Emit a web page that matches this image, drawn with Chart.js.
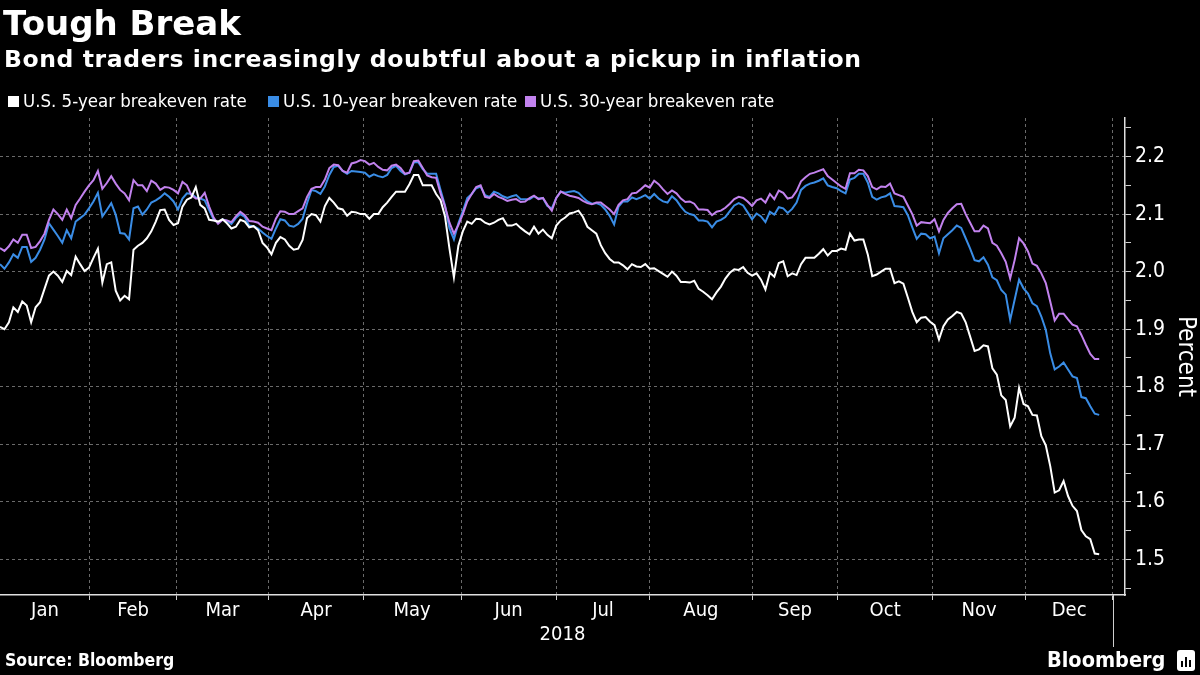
<!DOCTYPE html>
<html>
<head>
<meta charset="utf-8">
<script src="https://cdn.jsdelivr.net/npm/chart.js@4/dist/chart.umd.min.js"></script>
<style>
html,body{margin:0;padding:0;background:#000;}
#wrap{position:relative;width:1200px;height:675px;overflow:hidden;background:#000;}
#chart{position:absolute;left:0;top:0;}
.t{position:absolute;color:#fff;white-space:nowrap;z-index:2;}
#title{left:3px;top:6px;font:bold 34px/34px "DejaVu Sans",sans-serif;}
#sub{left:4px;top:48px;font:bold 23.5px/23.5px "DejaVu Sans",sans-serif;letter-spacing:0.6px;}
#legend{left:0;top:92px;width:1200px;height:20px;font:18.5px/18.5px "DejaVu Sans Condensed","DejaVu Sans",sans-serif;}
.li{position:absolute;top:0;display:flex;align-items:center;}
.sw{width:11px;height:11px;margin-right:4px;}
#src{left:5px;top:652px;font:bold 17.5px/17.5px "DejaVu Sans Condensed","DejaVu Sans",sans-serif;}
#logo{left:1047px;top:649px;font:bold 21.5px/21.5px "DejaVu Sans Condensed","DejaVu Sans",sans-serif;}
#icon{position:absolute;left:1177px;top:650px;width:18px;height:21px;background:#fff;border-radius:3px;z-index:2;}
#icon i{position:absolute;bottom:4px;width:2px;background:#000;}
</style>
</head>
<body>
<div id="wrap">
  <canvas id="chart" width="1200" height="675"></canvas>
  <div class="t" id="title">Tough Break</div>
  <div class="t" id="sub">Bond traders increasingly doubtful about a pickup in inflation</div>
  <div class="t" id="legend"></div>
  <div class="t" id="src">Source: Bloomberg</div>
  <div class="t" id="logo">Bloomberg</div>
  <div id="icon"><i style="left:4px;height:6px"></i><i style="left:8px;height:10px"></i><i style="left:12px;height:7px"></i></div>
</div>
<script>
// ---- data (trading-day index = position in array) ----
const seriesNames = ['U.S. 5-year breakeven rate', 'U.S. 10-year breakeven rate', 'U.S. 30-year breakeven rate'];
const seriesColors = ['#ffffff', '#3a8de6', '#c282ee'];

const white5 = [
1.904,1.900,1.912,1.938,1.930,1.948,1.941,1.912,1.938,1.947,
1.970,1.993,2.000,1.993,1.982,2.001,1.994,2.026,2.013,2.001,
2.007,2.024,2.040,1.981,2.013,2.016,1.967,1.950,1.958,1.952,
2.038,2.045,2.050,2.058,2.070,2.087,2.107,2.108,2.090,2.081,
2.084,2.113,2.125,2.129,2.147,2.116,2.110,2.090,2.089,2.087,
2.091,
2.084,2.075,2.078,2.090,2.087,2.077,2.079,2.072,2.050,
2.042,2.030,2.050,2.060,2.056,2.045,2.038,2.040,2.055,2.093,
2.100,2.098,2.087,2.114,2.128,2.120,2.110,2.108,2.097,2.104,
2.103,2.100,2.100,2.092,2.100,2.100,2.112,2.120,2.130,2.139,
2.139,2.139,2.152,2.168,2.168,2.150,2.150,2.150,2.135,2.124,
2.096,2.040,1.990,2.045,2.070,2.087,2.083,2.092,2.091,2.085,
2.082,2.085,2.090,2.093,2.080,2.080,2.083,2.076,2.070,2.065,
2.078,2.066,2.073,2.064,2.058,2.080,2.089,2.094,2.101,2.103,
2.106,2.095,2.078,2.072,2.066,2.046,2.032,2.022,2.016,2.016,
2.011,2.004,2.013,2.009,2.008,2.013,2.005,2.006,2.001,1.996,
1.991,
2.000,1.993,1.982,1.982,1.981,1.984,1.970,1.965,1.959,
1.952,1.964,1.974,1.988,1.998,2.004,2.003,2.008,1.998,1.993,
1.997,1.986,1.969,1.998,1.991,2.015,2.018,1.992,1.997,1.994,
2.013,2.024,2.024,2.024,2.031,2.039,2.028,2.036,2.036,2.040,
2.038,2.066,2.054,2.056,2.056,2.030,1.992,1.995,2.000,2.005,
2.005,1.980,1.983,1.979,1.955,1.930,1.912,1.920,1.921,1.913,
1.907,1.882,1.905,1.917,1.923,1.930,1.927,1.912,1.887,1.862,
1.865,1.872,1.870,1.832,1.821,1.785,1.777,1.731,1.746,1.798,
1.770,1.766,1.751,1.750,1.714,1.698,1.662,1.616,1.620,1.636,
1.610,1.593,1.584,1.551,1.540,1.535,1.510,1.509];

const blue10 = [
2.013,2.005,2.016,2.030,2.024,2.043,2.043,2.017,2.024,2.038,
2.056,2.084,2.073,2.062,2.050,2.072,2.058,2.087,2.093,2.099,
2.110,2.122,2.137,2.096,2.107,2.119,2.099,2.067,2.066,2.056,
2.110,2.113,2.099,2.108,2.120,2.124,2.129,2.136,2.130,2.122,
2.108,2.127,2.136,2.135,2.129,2.127,2.124,2.107,2.091,2.085,
2.091,
2.088,2.083,2.093,2.100,2.095,2.080,2.079,2.075,2.068,
2.062,2.057,2.075,2.091,2.089,2.080,2.078,2.083,2.092,2.119,
2.142,2.140,2.135,2.148,2.168,2.182,2.184,2.175,2.170,2.175,
2.174,2.173,2.172,2.165,2.169,2.166,2.164,2.168,2.180,2.184,
2.175,2.169,2.172,2.190,2.190,2.178,2.170,2.170,2.170,2.142,
2.115,2.075,2.056,2.084,2.105,2.128,2.135,2.145,2.148,2.133,
2.130,2.139,2.136,2.131,2.128,2.131,2.133,2.126,2.126,2.126,
2.131,2.127,2.128,2.114,2.110,2.128,2.139,2.137,2.139,2.140,
2.137,2.129,2.122,2.118,2.119,2.116,2.108,2.097,2.082,2.113,
2.122,2.122,2.129,2.126,2.129,2.133,2.127,2.135,2.127,2.122,
2.120,
2.131,2.124,2.113,2.104,2.100,2.098,2.089,2.089,2.087,
2.077,2.087,2.090,2.095,2.105,2.115,2.119,2.115,2.103,2.091,
2.101,2.096,2.086,2.104,2.099,2.112,2.110,2.102,2.109,2.120,
2.142,2.149,2.153,2.155,2.158,2.162,2.150,2.147,2.145,2.140,
2.136,2.160,2.163,2.170,2.170,2.155,2.130,2.125,2.129,2.131,
2.136,2.114,2.113,2.112,2.098,2.077,2.057,2.066,2.065,2.058,
2.061,2.032,2.058,2.065,2.072,2.080,2.076,2.058,2.040,2.020,
2.018,2.025,2.012,1.990,1.985,1.968,1.960,1.916,1.951,1.986,
1.971,1.962,1.945,1.940,1.922,1.899,1.858,1.830,1.835,1.842,
1.830,1.818,1.815,1.782,1.780,1.766,1.753,1.751];

const purple30 = [
2.041,2.036,2.044,2.056,2.050,2.064,2.064,2.041,2.043,2.053,
2.066,2.090,2.108,2.100,2.090,2.108,2.093,2.116,2.127,2.139,
2.150,2.159,2.175,2.144,2.154,2.166,2.153,2.142,2.136,2.124,
2.159,2.150,2.150,2.140,2.158,2.153,2.142,2.147,2.146,2.142,
2.136,2.156,2.150,2.133,2.127,2.127,2.137,2.113,2.094,2.083,
2.090,
2.089,2.086,2.096,2.104,2.098,2.088,2.087,2.085,2.078,
2.075,2.072,2.092,2.105,2.104,2.100,2.100,2.105,2.110,2.130,
2.144,2.147,2.147,2.160,2.180,2.186,2.185,2.175,2.172,2.188,
2.190,2.194,2.192,2.186,2.189,2.182,2.177,2.176,2.184,2.186,
2.180,2.170,2.172,2.192,2.193,2.180,2.167,2.164,2.163,2.136,
2.113,2.085,2.066,2.081,2.100,2.122,2.135,2.147,2.150,2.130,
2.128,2.135,2.130,2.127,2.123,2.125,2.126,2.121,2.122,2.128,
2.132,2.126,2.128,2.116,2.106,2.128,2.139,2.135,2.132,2.130,
2.128,2.123,2.119,2.117,2.120,2.120,2.114,2.108,2.100,2.116,
2.124,2.126,2.136,2.137,2.143,2.150,2.146,2.158,2.152,2.143,
2.135,
2.141,2.136,2.127,2.121,2.122,2.118,2.108,2.108,2.107,
2.098,2.104,2.106,2.111,2.118,2.126,2.130,2.128,2.122,2.114,
2.124,2.127,2.120,2.135,2.126,2.141,2.137,2.127,2.129,2.140,
2.157,2.164,2.170,2.172,2.175,2.178,2.166,2.160,2.154,2.148,
2.144,2.171,2.171,2.177,2.176,2.166,2.147,2.143,2.148,2.147,
2.153,2.136,2.133,2.130,2.115,2.100,2.080,2.086,2.085,2.084,
2.091,2.070,2.090,2.102,2.110,2.117,2.118,2.100,2.085,2.070,
2.070,2.080,2.075,2.050,2.045,2.032,2.017,1.988,2.020,2.058,
2.049,2.035,2.014,2.010,1.997,1.980,1.948,1.915,1.927,1.927,
1.917,1.908,1.905,1.890,1.873,1.857,1.848,1.848];

// x axis: month names and the trading-day index where each month begins (last = year end)
const monthLabels = ['Jan','Feb','Mar','Apr','May','Jun','Jul','Aug','Sep','Oct','Nov','Dec'];
const monthStarts = [0, 20.2, 39.6, 60.4, 81.6, 103.6, 125, 146, 169, 188.3, 209.5, 230.5, 250];
const yearLabel = '2018';
// y axis ticks (percent)
const yMajorTicks = [1.5, 1.6, 1.7, 1.8, 1.9, 2.0, 2.1, 2.2];
const yMinorTicks = [1.45, 1.55, 1.65, 1.75, 1.85, 1.95, 2.05, 2.15, 2.25];
const yRange = [1.438, 2.267];
const xRange = [0, 252.8];

// ---- legend (HTML) ----
const legendLeft = [8, 268, 525];
const lg = document.getElementById('legend');
seriesNames.forEach((n, i) => {
  const d = document.createElement('div'); d.className = 'li'; d.style.left = legendLeft[i] + 'px';
  const s = document.createElement('div'); s.className = 'sw'; s.style.background = seriesColors[i];
  const t = document.createElement('span'); t.textContent = n;
  d.appendChild(s); d.appendChild(t); lg.appendChild(d);
});

// ---- derived tick lists ----
const boundaries = monthStarts.slice(1);
const mids = monthLabels.map((m, i) => (monthStarts[i] + monthStarts[i + 1]) / 2);
const isBoundary = v => boundaries.some(b => Math.abs(b - v) < 1e-6);
const labelFor = v => { const k = mids.findIndex(m => Math.abs(m - v) < 1e-6); return k >= 0 ? monthLabels[k] : ''; };
const isMajor = v => yMajorTicks.some(m => Math.abs(m - v) < 1e-6);

const FONT = '"DejaVu Sans Condensed", "DejaVu Sans", sans-serif';

const yearTick = {
  id: 'yearTick',
  afterDraw(chart) {
    const xs = chart.scales.x, ctx = chart.ctx;
    const px = Math.round(xs.getPixelForValue(monthStarts[monthStarts.length - 1])) + 0.5;
    ctx.save();
    ctx.strokeStyle = '#cfcfcf'; ctx.lineWidth = 1;
    ctx.beginPath(); ctx.moveTo(px, chart.chartArea.bottom); ctx.lineTo(px, chart.chartArea.bottom + 52); ctx.stroke();
    ctx.restore();
  }
};

const mk = (vals) => vals.map((v, i) => ({x: i, y: v}));

new Chart(document.getElementById('chart'), {
  type: 'line',
  data: {
    datasets: [
      {label: seriesNames[0], data: mk(white5), borderColor: seriesColors[0], order: 0},
      {label: seriesNames[1], data: mk(blue10), borderColor: seriesColors[1], order: 2},
      {label: seriesNames[2], data: mk(purple30), borderColor: seriesColors[2], order: 1}
    ]
  },
  options: {
    responsive: false, animation: false, devicePixelRatio: 1,
    layout: {padding: {top: 118, bottom: 28, left: 0, right: 0}},
    elements: {line: {borderWidth: 2, tension: 0}, point: {radius: 0}},
    plugins: {legend: {display: false}, tooltip: {enabled: false}},
    scales: {
      x: {
        type: 'linear', min: xRange[0], max: xRange[1],
        afterBuildTicks: s => { s.ticks = boundaries.concat(mids).sort((a, b) => a - b).map(v => ({value: v})); },
        afterFit: s => { s.height = 52; },
        ticks: {autoSkip: false, maxRotation: 0, padding: 0, color: '#ffffff',
                font: {family: FONT, size: 20, lineHeight: 1.1},
                callback: v => labelFor(v)},
        grid: {drawOnChartArea: true, tickLength: 5, lineWidth: 1,
               color: c => (c.tick && isBoundary(c.tick.value)) ? '#6a6a6a' : 'rgba(0,0,0,0)',
               tickColor: c => (c.tick && isBoundary(c.tick.value)) ? '#cfcfcf' : 'rgba(0,0,0,0)'},
        border: {display: true, color: '#e0e0e0', width: 1.5, dash: [3, 3]},
        title: {display: true, text: yearLabel, color: '#ffffff', padding: {top: 0, bottom: 0},
                font: {family: FONT, size: 20, lineHeight: 1.2}}
      },
      y: {
        type: 'linear', position: 'right', min: yRange[0], max: yRange[1],
        afterBuildTicks: s => { s.ticks = yMajorTicks.concat(yMinorTicks).sort((a, b) => a - b).map(v => ({value: v})); },
        afterFit: s => { s.width = 75; },
        ticks: {autoSkip: false, padding: 4, color: '#ffffff', font: {family: FONT, size: 21},
                callback: v => isMajor(v) ? v.toFixed(1) : ''},
        grid: {tickLength: 6, lineWidth: 1,
               color: c => (c.tick && isMajor(c.tick.value)) ? '#6a6a6a' : 'rgba(0,0,0,0)',
               tickColor: '#d0d0d0'},
        border: {display: true, color: '#e0e0e0', width: 1.5, dash: [3, 3]},
        title: {display: true, text: 'Percent', color: '#ffffff', padding: {top: 0, bottom: 2},
                font: {family: FONT, size: 24, lineHeight: 1.2}}
      }
    }
  },
  plugins: [yearTick]
});
</script>
</body>
</html>
